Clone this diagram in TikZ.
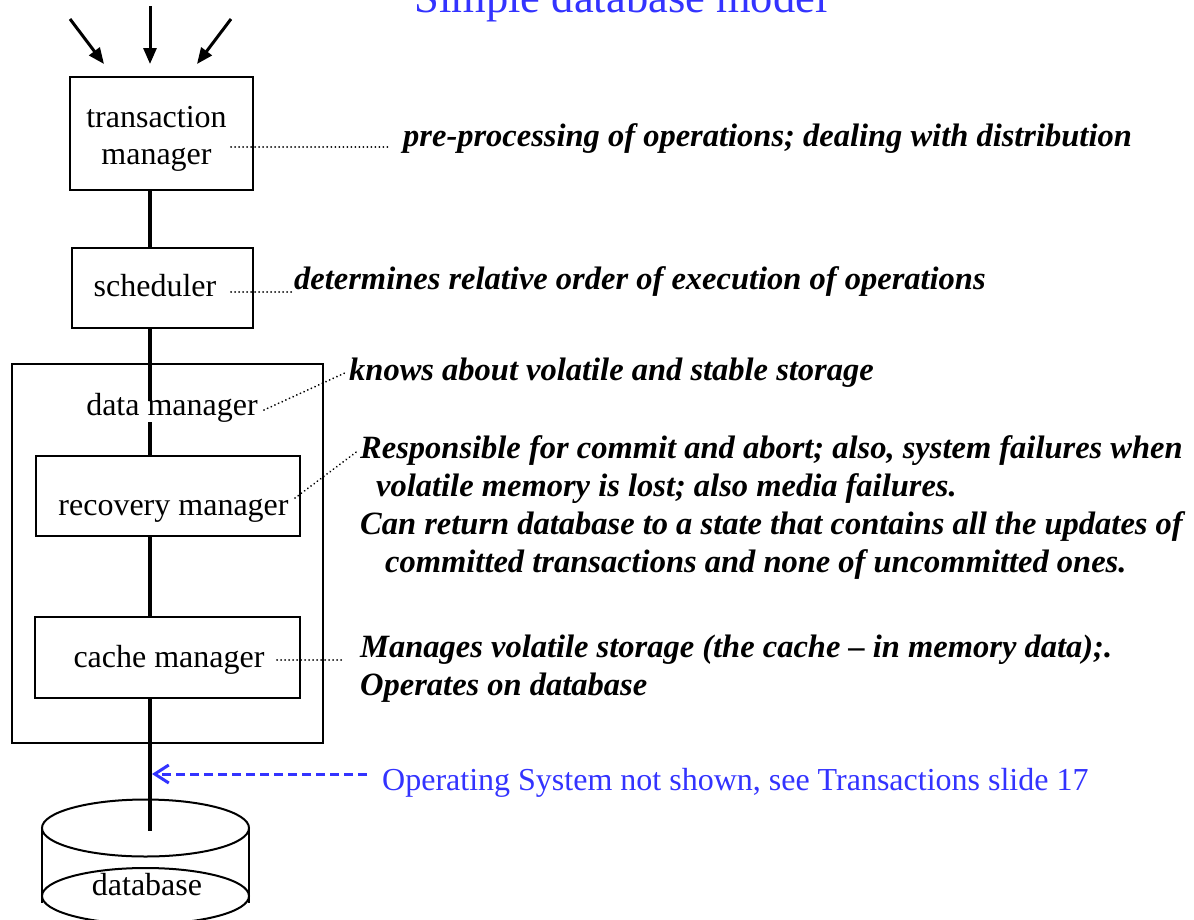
\documentclass[tikz,border=0pt]{standalone}
\usepackage{fontspec}
\setmainfont{Liberation Serif}
\usetikzlibrary{arrows.meta}
\definecolor{slideblue}{RGB}{51,51,255}
\tikzset{
  boxstyle/.style={draw=black, line width=2pt, minimum width=0pt, minimum height=0pt, inner sep=0pt},
  conn/.style={draw=black, line width=3.5pt},
  inarrow/.style={draw=black, line width=3pt, -{Triangle[length=16pt,width=13pt]}},
  dotline/.style={draw=black, line width=2pt, line cap=round, dash pattern=on 0.01pt off 4pt},
  osarrow/.style={draw=slideblue, line width=3pt, dash pattern=on 9pt off 5pt, -{Straight Barb[length=14pt,width=18pt]}},
  boxtext/.style={anchor=base, inner sep=0pt, font=\fontsize{32}{38}\selectfont},
  note/.style={anchor=base west, inner sep=0pt, font=\fontsize{32.5}{38}\selectfont\bfseries\itshape},
}
\begin{document}
\begin{tikzpicture}[x=1pt,y=-1pt]
\useasboundingbox (0,0) rectangle (1194,919);
\clip (0,0) rectangle (1194,919);
\fill[white] (0,0) rectangle (1194,919);

% title (cut off at top)
\node[anchor=base, inner sep=0pt, text=slideblue, font=\fontsize{44.5}{52}\selectfont] (title) at (621,12) {Simple database model};

% boxes
\node[boxstyle, minimum width=183pt, minimum height=113pt] (tm) at (161.5,133.5) {};
\node[boxstyle, minimum width=181pt, minimum height=80pt] (sch) at (162.5,288) {};
\node[boxstyle, minimum width=311pt, minimum height=379pt] (dm) at (167.5,553.5) {};
\node[boxstyle, minimum width=264pt, minimum height=80pt] (rm) at (168,496) {};
\node[boxstyle, minimum width=265pt, minimum height=81pt] (cm) at (167.5,657.5) {};

% box texts
\node[boxtext] (tmt1) at (156.5,127) {transaction};
\node[boxtext] (tmt2) at (156.5,164) {manager};
\node[boxtext] (scht) at (155,296) {scheduler};
\node[boxtext] (dmt) at (172,415) {data manager};
\node[boxtext] (rmt) at (173.5,515) {recovery manager};
\node[boxtext] (cmt) at (169,667) {cache manager};

% database cylinder
\draw[line width=2pt] (42,828) -- (42,903) (249,828) -- (249,903);
\draw[line width=2pt] (145.5,828) ellipse [x radius=103.5pt, y radius=28.5pt];
\draw[line width=2pt] (145.5,896) ellipse [x radius=103.5pt, y radius=28pt];
\node[boxtext] (dbt) at (147,895) {database};

% main vertical connector
\coordinate (L) at (150,0);
\coordinate (dmup) at (150,401);
\coordinate (dmdn) at (150,422);
\coordinate (dbin) at (150,831);
\draw[conn] (L |- tm.south) -- (L |- sch.north);
\draw[conn] (L |- sch.south) -- (dmup);
\draw[conn] (dmdn) -- (L |- rm.north);
\draw[conn] (L |- rm.south) -- (L |- cm.north);
\draw[conn] (L |- cm.south) -- (dbin);

% incoming arrows
\coordinate (a1s) at (70,19);  \coordinate (a1e) at (104,64);
\coordinate (a2s) at (150,6);  \coordinate (a2e) at (150,64);
\coordinate (a3s) at (231,19); \coordinate (a3e) at (197,64);
\draw[inarrow] (a1s) -- (a1e);
\draw[inarrow] (a2s) -- (a2e);
\draw[inarrow] (a3s) -- (a3e);

% annotations
\node[note] (n1) at (403,146) {pre-processing of operations; dealing with distribution};
\node[note] (n2) at (294,289) {determines relative order of execution of operations};
\node[note] (n3) at (349,380) {knows about volatile and stable storage};
\node[note] (n4a) at (360,458) {Responsible for commit and abort; also, system failures when};
\node[note] (n4b) at (376,496) {volatile memory is lost; also media failures.};
\node[note] (n4c) at (360,534) {Can return database to a state that contains all the updates of};
\node[note] (n4d) at (385,572) {committed transactions and none of uncommitted ones.};
\node[note] (n5a) at (360,657) {Manages volatile storage (the cache -- in memory data);.};
\node[note] (n5b) at (360,695) {Operates on database};

% dotted leaders
\coordinate (d1s) at (231,147); \coordinate (d1e) at (390,147);
\coordinate (d2s) at (231,292); \coordinate (d2e) at (292,292);
\coordinate (d3s) at (264,410); \coordinate (d3e) at (347,372);
\coordinate (d4s) at (295,498); \coordinate (d4e) at (359,450);
\coordinate (d5s) at (277,660); \coordinate (d5e) at (345,660);
\draw[dotline] (d1s) -- (d1e);
\draw[dotline] (d2s) -- (d2e);
\draw[dotline] (d3s) -- (d3e);
\draw[dotline] (d4s) -- (d4e);
\draw[dotline] (d5s) -- (d5e);

% OS note
\node[anchor=base west, inner sep=0pt, text=slideblue, font=\fontsize{32}{38}\selectfont] (os) at (382,790) {Operating System not shown, see Transactions slide 17};
\coordinate (osa) at (367,774);
\coordinate (osb) at (152,774);
\draw[osarrow] (osa) -- (osb);
\end{tikzpicture}
\end{document}
